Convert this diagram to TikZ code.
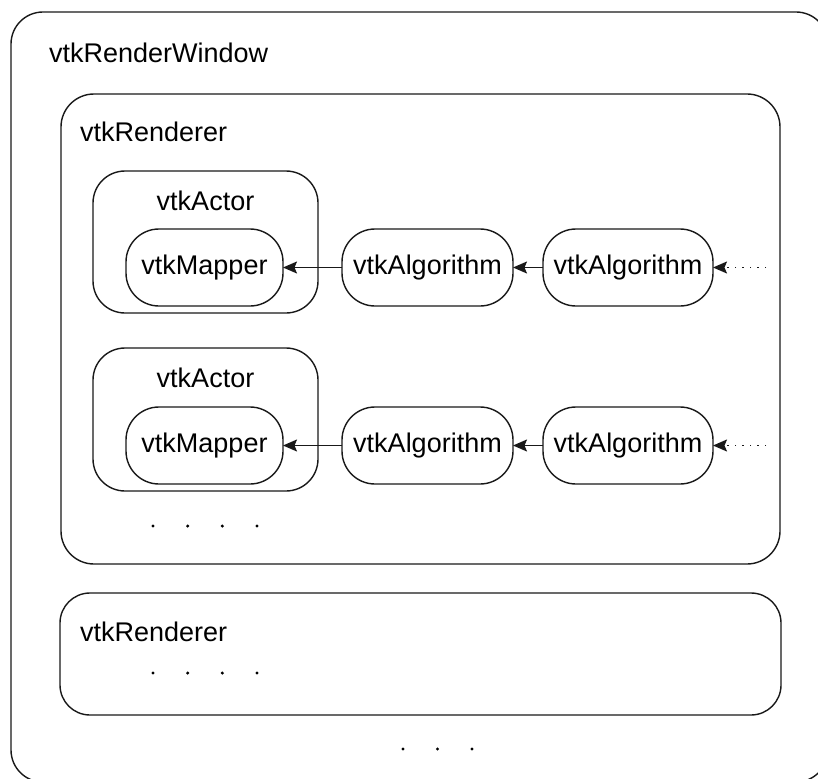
\documentclass[tikz,border=0pt]{standalone}
\usepackage{fontspec}
\setmainfont{Liberation Sans}
\usetikzlibrary{arrows.meta}
\begin{document}
\begin{tikzpicture}[x=1pt,y=-1pt,
  frame/.style={draw=black!90, line width=1.4pt, rectangle, inner sep=0pt, outer sep=0pt},
  pill/.style={frame, minimum width=157pt, minimum height=77pt, rounded corners=33pt, font=\fontsize{27}{32}\selectfont},
  alg/.style={pill, minimum width=171pt},
  lbl/.style={inner sep=0pt, outer sep=0pt, font=\fontsize{27}{32}\selectfont},
  link/.style={draw=black!90, line width=1.4pt, -{Stealth[length=14pt,width=12pt,inset=2.5pt]}},
  dotlink/.style={link, dash pattern=on 1.5pt off 6pt},
  dot/.style={circle, fill=black, inner sep=0pt, minimum size=3.4pt}
]
\clip (0,0) rectangle (818,778);
\fill[white] (0,0) rectangle (818,778);
% outer window
\node[frame, minimum width=817pt, minimum height=770pt, rounded corners=32pt] (win) at (419.5,397) {};
\node[lbl, anchor=base west] (winlbl) at (49,63) {vtkRenderWindow};
% renderer 1
\node[frame, minimum width=719pt, minimum height=470pt, rounded corners=33pt] (ren1) at (420.5,329) {};
\node[lbl, anchor=base west] (ren1lbl) at (80,142) {vtkRenderer};
% actor 1
\node[frame, minimum width=225pt, minimum height=142pt, rounded corners=32pt] (act1) at (205.5,242) {};
\node[lbl, anchor=base] (act1lbl) at (205.5,210) {vtkActor};
\node[pill] (map1) at (204.5,267.5) {vtkMapper};
\node[alg] (alg1) at (427.5,267.5) {vtkAlgorithm};
\node[alg, minimum width=170pt] (alg2) at (628,267.5) {vtkAlgorithm};
\coordinate (src1) at (766,267.5);
\draw[link] (alg1) -- (map1);
\draw[link] (alg2) -- (alg1);
\draw[dotlink] (src1) -- (alg2);
% actor 2
\node[frame, minimum width=225pt, minimum height=143pt, rounded corners=32pt] (act2) at (205.5,419.5) {};
\node[lbl, anchor=base] (act2lbl) at (205.5,387) {vtkActor};
\node[pill] (map2) at (204.5,445.5) {vtkMapper};
\node[alg] (alg3) at (427.5,445.5) {vtkAlgorithm};
\node[alg, minimum width=170pt] (alg4) at (628,445.5) {vtkAlgorithm};
\coordinate (src2) at (766,445.5);
\draw[link] (alg3) -- (map2);
\draw[link] (alg4) -- (alg3);
\draw[dotlink] (src2) -- (alg4);
% dots in renderer 1
\node[dot] (d1a) at (153,526) {};
\node[dot] (d1b) at (187.7,526) {};
\node[dot] (d1c) at (222.3,526) {};
\node[dot] (d1d) at (257,526) {};
% renderer 2
\node[frame, minimum width=721pt, minimum height=122pt, rounded corners=30pt] (ren2) at (420.5,654) {};
\node[lbl, anchor=base west] (ren2lbl) at (80,641) {vtkRenderer};
\node[dot] (d2a) at (153,673) {};
\node[dot] (d2b) at (187.7,673) {};
\node[dot] (d2c) at (222.3,673) {};
\node[dot] (d2d) at (257,673) {};
% dots in window
\node[dot] (d3a) at (403,749) {};
\node[dot] (d3b) at (437.5,749) {};
\node[dot] (d3c) at (472,749) {};
\end{tikzpicture}
\end{document}
